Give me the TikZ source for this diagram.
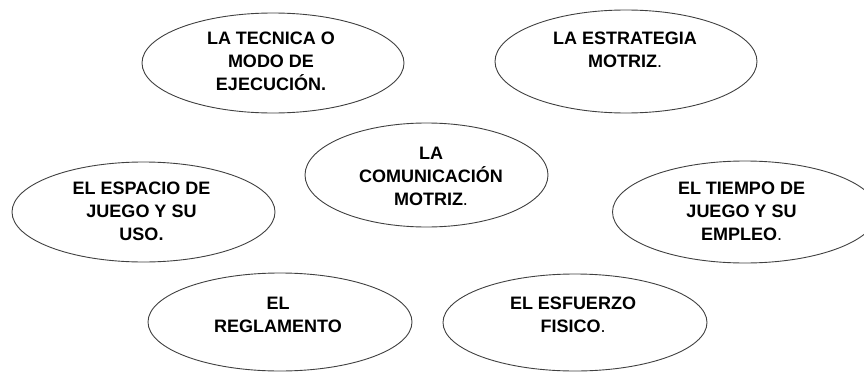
\documentclass[tikz,border=0pt]{standalone}
\usepackage{fontspec}
\setmainfont{Liberation Sans}
\usetikzlibrary{shapes.geometric}
\begin{document}
\begin{tikzpicture}[x=1pt,y=-1pt,
  oval/.style={ellipse, draw=black!75, line width=0.9pt, fill=white, inner sep=0pt},
  lbl/.style={anchor=north, align=center, inner sep=0pt, font=\fontsize{18}{23}\selectfont\bfseries}]
\useasboundingbox (0,0) rectangle (864,372);
\node[oval, minimum width=262pt, minimum height=100pt] (e1) at (273,63) {};
\node[oval, minimum width=262pt, minimum height=103pt] (e2) at (626,61.5) {};
\node[oval, minimum width=243pt, minimum height=104pt] (e3) at (426.5,175) {};
\node[oval, minimum width=263pt, minimum height=100pt] (e4) at (143.5,212) {};
\node[oval, minimum width=265pt, minimum height=102pt] (e5) at (745,212) {};
\node[oval, minimum width=264pt, minimum height=98pt] (e6) at (280,322) {};
\node[oval, minimum width=264pt, minimum height=97pt] (e7) at (575,322.5) {};
\node[lbl] (t1) at (271,31.7) {LA TECNICA O\\MODO DE\\EJECUCIÓN.};
\node[lbl] (t2) at (625,31.7) {LA ESTRATEGIA\\MOTRIZ{\mdseries.}};
\node[lbl] (t3) at (431,147) {LA\\COMUNICACIÓN\\MOTRIZ{\mdseries.}};
\node[lbl] (t4) at (141.5,181.7) {EL ESPACIO DE\\JUEGO Y SU\\USO.};
\node[lbl] (t5) at (741.5,181.7) {EL TIEMPO DE\\JUEGO Y SU\\EMPLEO{\mdseries.}};
\node[lbl] (t6) at (278,296.7) {EL\\REGLAMENTO};
\node[lbl] (t7) at (573,296.7) {EL ESFUERZO\\FISICO{\mdseries.}};
\end{tikzpicture}
\end{document}
